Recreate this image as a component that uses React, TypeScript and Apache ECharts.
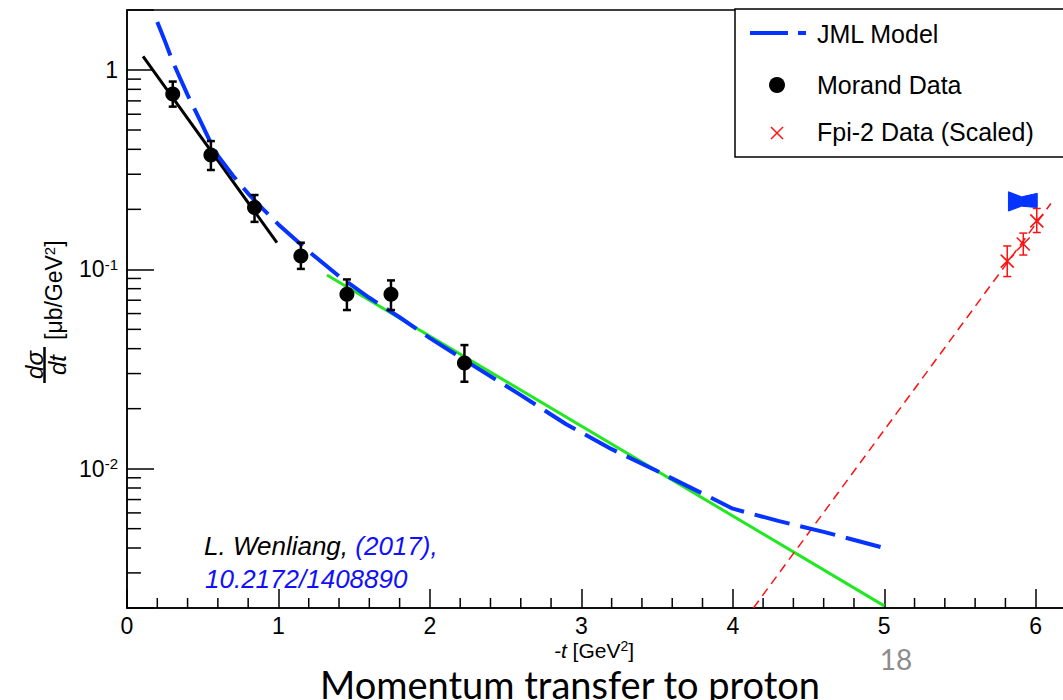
import React, { useEffect, useRef } from "react";
import * as echarts from "echarts";

// Morand data: -t [GeV^2], dσ/dt [μb/GeV^2] and error limits
const morandT = [0.302, 0.554, 0.842, 1.148, 1.452, 1.743, 2.228];
const morandXs = [0.758, 0.375, 0.204, 0.1167, 0.075, 0.075, 0.0339];
const morandLo = [0.655, 0.315, 0.173, 0.1005, 0.0625, 0.0625, 0.0273];
const morandHi = [0.875, 0.44, 0.236, 0.136, 0.089, 0.088, 0.0417];

// Fpi-2 data (scaled)
const fpiT = [5.812, 5.918, 6.007];
const fpiXs = [0.11, 0.134, 0.175];
const fpiLo = [0.092, 0.118, 0.153];
const fpiHi = [0.131, 0.152, 0.202];

// JML model curve
const jmlT = [0.2, 0.25, 0.3, 0.35, 0.4, 0.5, 0.55, 0.6, 0.7, 0.8, 0.9, 1.0, 1.2, 1.4, 1.6, 1.8, 2.0, 2.3, 2.6, 2.9, 3.2, 3.5, 3.8, 4.0, 4.3, 4.6, 5.0];
const jmlXs = [1.74, 1.4, 1.11, 0.912, 0.75, 0.525, 0.436, 0.372, 0.295, 0.24, 0.2, 0.168, 0.123, 0.0923, 0.072, 0.0575, 0.0452, 0.0324, 0.0234, 0.0167, 0.01253, 0.00973, 0.0075, 0.0063, 0.00547, 0.00482, 0.004];

// exponential fits
const lowTFitT = [0.106, 0.99];
const lowTFitXs = [1.17, 0.136];
const highTFitT = [1.32, 5.0];
const highTFitXs = [0.0936, 0.00205];
const fpiFitT = [4.136, 6.1];
const fpiFitXs = [0.002, 0.214];

// JML model band at the Fpi-2 kinematics
const bandT = [5.82, 5.907, 6.01];
const bandHi = [0.245, 0.231, 0.2405];
const bandLo = [0.196, 0.2075, 0.204];

// axis ticks
const xMajorTicks = [0, 1, 2, 3, 4, 5, 6];
const xMinorTicks = [
  0.2, 0.4, 0.6, 0.8, 1.2, 1.4, 1.6, 1.8, 2.2, 2.4, 2.6, 2.8, 3.2, 3.4, 3.6, 3.8,
  4.2, 4.4, 4.6, 4.8, 5.2, 5.4, 5.6, 5.8,
];
const yMinorTicks = [
  0.003, 0.004, 0.005, 0.006, 0.007, 0.008, 0.009,
  0.02, 0.03, 0.04, 0.05, 0.06, 0.07, 0.08, 0.09,
  0.2, 0.3, 0.4, 0.5, 0.6, 0.7, 0.8, 0.9,
];

const FONT = '"Liberation Sans", Arial, Helvetica, sans-serif';
const SLIDE_FONT = "Lato, 'Open Sans', sans-serif";
const BLUE = "#0533ff";
const GREEN = "#22e822";
const RED = "#ff1010";
const BLACK = "#000000";

const zip = (a: number[], b: number[]) => a.map((v, i) => [v, b[i]]);

export default function App() {
  const ref = useRef<HTMLDivElement>(null);

  useEffect(() => {
    if (!ref.current) return;
    const chart = echarts.init(ref.current, undefined, { renderer: "svg" });

    const errorBars = (color: string, width: number, cap: number) =>
      (params: any, api: any) => {
        const t = api.value(0);
        const top = api.coord([t, api.value(2)]);
        const bot = api.coord([t, api.value(1)]);
        const st = { stroke: color, lineWidth: width };
        return {
          type: "group",
          children: [
            { type: "line", shape: { x1: top[0], y1: top[1], x2: bot[0], y2: bot[1] }, style: st },
            { type: "line", shape: { x1: top[0] - cap, y1: top[1], x2: top[0] + cap, y2: top[1] }, style: st },
            { type: "line", shape: { x1: bot[0] - cap, y1: bot[1], x2: bot[0] + cap, y2: bot[1] }, style: st },
          ],
        };
      };

    const option: any = {
      animation: false,
      backgroundColor: "#ffffff",
      grid: {
        left: 127,
        top: 10,
        width: 939,
        height: 598,
        show: true,
        borderColor: BLACK,
        borderWidth: 1.5,
        backgroundColor: "transparent",
        containLabel: false,
        outerBoundsMode: "none",
      },
      xAxis: {
        type: "value",
        min: 0,
        max: 6.2,
        interval: 1,
        axisLine: { show: true, lineStyle: { color: BLACK, width: 1.5 } },
        axisTick: { show: true, inside: true, length: 19, lineStyle: { color: BLACK, width: 1.5 } },
        minorTick: { show: false },
        splitLine: { show: false },
        axisLabel: {
          margin: 6,
          color: BLACK,
          fontSize: 23,
          fontFamily: FONT,
          formatter: (v: number) => (xMajorTicks.indexOf(Math.round(v * 1000) / 1000) >= 0 ? String(v) : ""),
        },
      },
      yAxis: {
        type: "log",
        logBase: 10,
        min: 0.002,
        max: 2,
        axisLine: { show: true, lineStyle: { color: BLACK, width: 1.5 } },
        axisTick: { show: true, inside: true, length: 27, lineStyle: { color: BLACK, width: 1.5 } },
        splitLine: { show: false },
        axisLabel: {
          margin: 9,
          color: BLACK,
          fontSize: 23,
          fontFamily: FONT,
          formatter: (v: number) => {
            const e = Math.log10(v);
            if (Math.abs(e - Math.round(e)) > 1e-6) return "";
            const n = Math.round(e);
            return n === 0 ? "1" : `10{s|${n}}`;
          },
          rich: {
            s: { fontSize: 15, fontFamily: FONT, color: BLACK, verticalAlign: "top", padding: [0, 0, 10, 0] },
          },
        },
      },
      series: [
        {
          name: "JML Model",
          type: "line",
          data: zip(jmlT, jmlXs),
          showSymbol: false,
          lineStyle: { color: BLUE, width: 4, type: [36, 11] },
          z: 4,
        },
        {
          name: "low-t fit",
          type: "line",
          data: zip(lowTFitT, lowTFitXs),
          showSymbol: false,
          lineStyle: { color: BLACK, width: 3 },
          z: 3,
        },
        {
          name: "high-t fit",
          type: "line",
          data: zip(highTFitT, highTFitXs),
          showSymbol: false,
          lineStyle: { color: GREEN, width: 3 },
          z: 3,
        },
        {
          name: "Fpi-2 fit",
          type: "line",
          data: zip(fpiFitT, fpiFitXs),
          showSymbol: false,
          lineStyle: { color: RED, width: 1.5, type: [9, 6] },
          z: 3,
        },
        {
          name: "JML band",
          type: "custom",
          data: [[bandT[0], bandHi[0]]],
          renderItem: (params: any, api: any) => {
            const pts = bandT
              .map((t, i) => api.coord([t, bandHi[i]]))
              .concat(bandT.map((t, i) => api.coord([t, bandLo[i]])).reverse());
            return { type: "polygon", shape: { points: pts }, style: { fill: BLUE, stroke: BLUE, lineWidth: 1 } };
          },
          z: 5,
        },
        {
          name: "Morand errors",
          type: "custom",
          data: morandT.map((t, i) => [t, morandLo[i], morandHi[i]]),
          encode: { x: 0, y: [1, 2] },
          renderItem: errorBars(BLACK, 2.5, 4),
          z: 6,
        },
        {
          name: "Morand Data",
          type: "scatter",
          data: zip(morandT, morandXs),
          symbol: "circle",
          symbolSize: 15,
          itemStyle: { color: BLACK, opacity: 1 },
          z: 7,
        },
        {
          name: "Fpi-2 errors",
          type: "custom",
          data: fpiT.map((t, i) => [t, fpiLo[i], fpiHi[i]]),
          encode: { x: 0, y: [1, 2] },
          renderItem: errorBars(RED, 1.5, 4),
          z: 6,
        },
        {
          name: "Fpi-2 Data (Scaled)",
          type: "custom",
          data: zip(fpiT, fpiXs),
          renderItem: (params: any, api: any) => {
            const p = api.coord([api.value(0), api.value(1)]);
            const h = 6.5;
            const st = { stroke: RED, lineWidth: 1.6 };
            return {
              type: "group",
              children: [
                { type: "line", shape: { x1: p[0] - h, y1: p[1] - h, x2: p[0] + h, y2: p[1] + h }, style: st },
                { type: "line", shape: { x1: p[0] - h, y1: p[1] + h, x2: p[0] + h, y2: p[1] - h }, style: st },
              ],
            };
          },
          z: 7,
        },
        {
          name: "y minor ticks",
          type: "custom",
          data: yMinorTicks.map((v) => [0, v]),
          renderItem: (params: any, api: any) => {
            const p = api.coord([0, api.value(1)]);
            return { type: "line", shape: { x1: p[0], y1: p[1], x2: p[0] + 14, y2: p[1] }, style: { stroke: BLACK, lineWidth: 1.5 } };
          },
          silent: true,
          z: 2,
        },
        {
          name: "x minor ticks",
          type: "custom",
          data: xMinorTicks.map((v) => [v, 0.002]),
          renderItem: (params: any, api: any) => {
            const p = api.coord([api.value(0), 0.002]);
            return { type: "line", shape: { x1: p[0], y1: p[1], x2: p[0], y2: p[1] - 10 }, style: { stroke: BLACK, lineWidth: 1.5 } };
          },
          silent: true,
          z: 2,
        },
      ],
      graphic: [
        // legend box
        {
          type: "rect",
          shape: { x: 735, y: 9, width: 340, height: 148 },
          style: { fill: "#ffffff", stroke: BLACK, lineWidth: 1.5 },
          z: 10,
        },
        {
          type: "line",
          shape: { x1: 750, y1: 33, x2: 806, y2: 33 },
          style: { stroke: BLUE, lineWidth: 4, lineDash: [38, 10] },
          z: 11,
        },
        { type: "circle", shape: { cx: 777, cy: 85, r: 8 }, style: { fill: BLACK }, z: 11 },
        { type: "line", shape: { x1: 771, y1: 127, x2: 783, y2: 139 }, style: { stroke: RED, lineWidth: 1.5 }, z: 11 },
        { type: "line", shape: { x1: 771, y1: 139, x2: 783, y2: 127 }, style: { stroke: RED, lineWidth: 1.5 }, z: 11 },
        {
          type: "text", x: 817, y: 34, z: 11,
          style: { text: "JML Model", fontSize: 25, fontFamily: FONT, fill: BLACK, align: "left", verticalAlign: "middle" },
        },
        {
          type: "text", x: 817, y: 85, z: 11,
          style: { text: "Morand Data", fontSize: 25, fontFamily: FONT, fill: BLACK, align: "left", verticalAlign: "middle" },
        },
        {
          type: "text", x: 817, y: 132, z: 11,
          style: { text: "Fpi-2 Data (Scaled)", fontSize: 25, fontFamily: FONT, fill: BLACK, align: "left", verticalAlign: "middle" },
        },
        // reference note
        {
          type: "text", x: 204, y: 546, z: 11,
          style: {
            text: "{a|L. Wenliang, }{b|(2017),}",
            align: "left",
            verticalAlign: "middle",
            rich: {
              a: { fontSize: 26, fontStyle: "italic", fontFamily: FONT, fill: BLACK, color: BLACK },
              b: { fontSize: 26, fontStyle: "italic", fontFamily: FONT, fill: "#1010ff", color: "#1010ff" },
            },
          },
        },
        {
          type: "text", x: 205, y: 579, z: 11,
          style: { text: "10.2172/1408890", fontSize: 26, fontStyle: "italic", fontFamily: FONT, fill: "#1010ff", align: "left", verticalAlign: "middle" },
        },
        // x axis title
        {
          type: "text", x: 594, y: 650, z: 11,
          style: {
            text: "{i|-t}{n| [GeV}{s|2}{n|]}",
            align: "center",
            verticalAlign: "middle",
            rich: {
              i: { fontSize: 21, fontStyle: "italic", fontFamily: FONT, color: BLACK },
              n: { fontSize: 21, fontFamily: FONT, color: BLACK },
              s: { fontSize: 14, fontFamily: FONT, color: BLACK, verticalAlign: "top", padding: [0, 0, 9, 0] },
            },
          },
        },
        // y axis title, rotated
        {
          type: "group",
          x: 66,
          y: 384,
          rotation: Math.PI / 2,
          z: 11,
          children: [
            {
              type: "text", x: 19, y: -32,
              style: { text: "dσ", fontSize: 24, fontStyle: "italic", fontFamily: FONT, fill: BLACK, align: "center", verticalAlign: "middle" },
            },
            { type: "line", shape: { x1: 1, y1: -21.5, x2: 37, y2: -21.5 }, style: { stroke: BLACK, lineWidth: 2.5 } },
            {
              type: "text", x: 19, y: -9,
              style: { text: "dt", fontSize: 24, fontStyle: "italic", fontFamily: FONT, fill: BLACK, align: "center", verticalAlign: "middle" },
            },
            {
              type: "text", x: 44, y: -12,
              style: {
                text: "{n|[μb/GeV}{s|2}{n|]}",
                align: "left",
                verticalAlign: "middle",
                rich: {
                  n: { fontSize: 23, fontFamily: FONT, color: BLACK },
                  s: { fontSize: 15, fontFamily: FONT, color: BLACK, verticalAlign: "top", padding: [0, 0, 10, 0] },
                },
              },
            },
          ],
        },
        // slide caption and page number
        {
          type: "text", x: 570, y: 684, z: 11,
          style: { text: "Momentum transfer to proton", fontSize: 38, fontFamily: SLIDE_FONT, fill: BLACK, align: "center", verticalAlign: "middle" },
        },
        {
          type: "text", x: 896, y: 659, z: 11,
          style: { text: "18", fontSize: 28, fontFamily: SLIDE_FONT, fill: "#8c8c8c", align: "center", verticalAlign: "middle" },
        },
      ],
    };

    chart.setOption(option);
    return () => chart.dispose();
  }, []);

  return (
    <div
      ref={ref}
      style={{ position: "fixed", left: 0, top: 0, width: 1063, height: 700, background: "#ffffff" }}
    />
  );
}
